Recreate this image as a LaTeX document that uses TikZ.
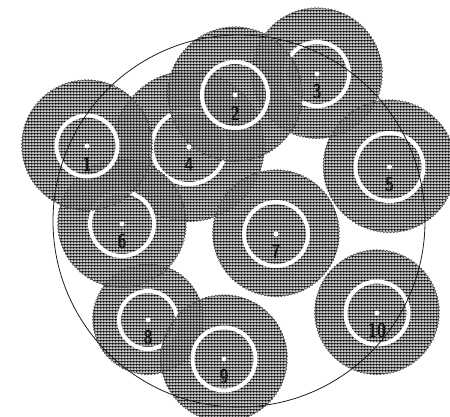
\documentclass[tikz,border=0pt]{standalone}
\usetikzlibrary{patterns,decorations.pathmorphing}
\definecolor{diskInk}{HTML}{6A6A6A}
\definecolor{boundInk}{HTML}{1E1E1E}
% 3bp plaid: grey cell, white and black rules
\pgfdeclarepatterninherentlycolored{diskplaid}{\pgfpointorigin}
  {\pgfqpoint{3bp}{3bp}}{\pgfqpoint{3bp}{3bp}}{
  \pgfsetfillcolor{diskInk}
  \pgfpathrectangle{\pgfpointorigin}{\pgfqpoint{3bp}{3bp}}
  \pgfusepath{fill}
  \pgfsetfillcolor{white}
  \pgfpathrectangle{\pgfpointorigin}{\pgfqpoint{3bp}{1bp}}
  \pgfpathrectangle{\pgfpointorigin}{\pgfqpoint{1bp}{3bp}}
  \pgfusepath{fill}
  \pgfsetfillcolor{black}
  \pgfpathrectangle{\pgfqpoint{0bp}{1bp}}{\pgfqpoint{3bp}{1bp}}
  \pgfpathrectangle{\pgfqpoint{1bp}{0bp}}{\pgfqpoint{1bp}{3bp}}
  \pgfusepath{fill}
}
\tikzset{
  disk/edge/.style={decorate, decoration={snake, segment length=3.3bp,
    amplitude=0.6bp}},
  disk/body/.style={disk/edge, pattern=diskplaid, draw=black!70,
    line width=0.5bp},
  disk/ring/.style={draw=white, line width=4bp},
  disk/dot/.style={circle, fill=white, inner sep=0pt, minimum size=5bp},
  disk/label/.style={font=\fontsize{20}{20}\selectfont\sffamily\bfseries,
    text=black!90, inner sep=0pt, xscale=0.82},
  bound/.style={draw=boundInk, line width=0.8bp},
}

\begin{document}
\begin{tikzpicture}[x=1bp, y=-1bp]
\useasboundingbox (0,0) rectangle (450,416);
% disks, lowest first: id/x/y/radius/ring radius
\foreach \n/\x/\y/\r/\q in {4/189/147/75/37, 8/148/320/55/29,
    6/122/224/64/32, 1/87/146/65/30.5, 3/317/74/65/32,
    2/235/95/67/33, 5/389.5/167/66/34, 7/276/234/63/32,
    9/224/359/63/31.5, 10/377/313/62/31.5} {
  \coordinate (c\n) at (\x,\y);
  \path[disk/body] (c\n) circle (\r bp);
  \draw[disk/ring] (c\n) circle (\q bp);
  \node[disk/dot] (dot\n) at (c\n) {};
  \node[disk/label] (lab\n) at (\x,\y+18) {\n};
}
% enclosing circle
\coordinate (mid) at (239,221);
\draw[bound] (mid) circle (186bp);
\end{tikzpicture}
\end{document}
